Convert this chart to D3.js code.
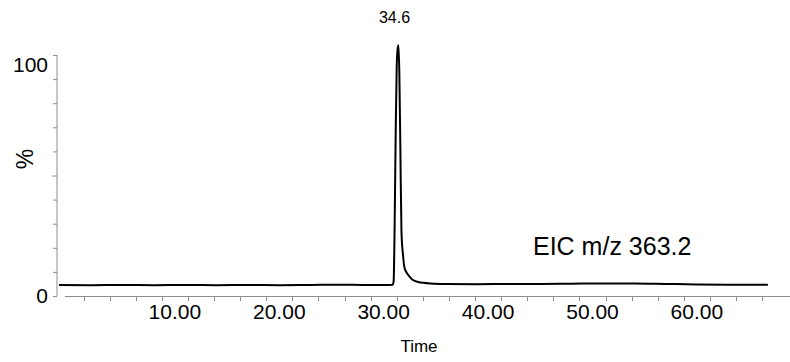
<!DOCTYPE html>
<html>
<head>
<meta charset="utf-8">
<script src="https://cdn.jsdelivr.net/npm/d3@7"></script>
<style>
body { margin: 0; background: #fff; }
text { font-family: "Liberation Sans", Arial, sans-serif; fill: #000; }
</style>
</head>
<body>
<div id="chart"></div>
<script>
// chromatogram trace (time in min, intensity in %)
const times = [-1.1, 2, 5, 8, 11, 14, 17, 20, 23, 26, 28, 30, 30.85, 30.95, 31.05, 31.15, 31.25, 31.35, 31.42, 31.5, 31.6, 31.7, 31.85, 32.0, 32.3, 32.7, 33.3, 34.5, 36, 39, 42, 45, 48, 51, 54, 57, 60, 63, 66.8];
const intensity = [4.6, 4.5, 4.6, 4.5, 4.6, 4.5, 4.6, 4.5, 4.6, 4.7, 4.6, 4.6, 4.7, 6, 30, 68, 96, 103, 104, 92, 60, 27, 17, 11.6, 9, 7, 5.8, 5.2, 5.0, 4.9, 5.0, 5.0, 5.1, 5.2, 5.2, 5.0, 4.8, 4.7, 4.7];

const xTickLabels = [10, 20, 30, 40, 50, 60];
const xMinorTicks = d3.range(1.25, 67, 2.5);
const yTicks = d3.range(0, 101, 10);
const peakLabel = "34.6";
const traceLabel = "EIC m/z 363.2";

const width = 790, height = 362;
const svg = d3.select("#chart").append("svg").attr("width", width).attr("height", height);

const x = d3.scaleLinear().domain([0, 60]).range([70.5, 696.9]);
const y = d3.scaleLinear().domain([0, 100]).range([296, 55]);

const axisColor = "#8c8c8c";

// y axis
svg.append("line").attr("x1", 57).attr("x2", 57).attr("y1", y(100)).attr("y2", y(0))
    .attr("stroke", axisColor).attr("stroke-width", 1);
svg.selectAll(".ytick").data(yTicks).enter().append("line")
    .attr("x1", d => d === 50 ? 52 : 53).attr("x2", 57)
    .attr("y1", d => y(d) + 0.5).attr("y2", d => y(d) + 0.5)
    .attr("stroke", axisColor).attr("stroke-width", 1);
svg.append("text").attr("x", 48).attr("y", 72).attr("text-anchor", "end").style("font-size", "21px").text("100");
svg.append("text").attr("x", 48).attr("y", 303).attr("text-anchor", "end").style("font-size", "21px").text("0");
svg.append("text").attr("transform", "translate(33,159) rotate(-90)").attr("text-anchor", "middle")
    .style("font-size", "23px").text("%");

// x axis
svg.append("line").attr("x1", 65).attr("x2", 790).attr("y1", 296.5).attr("y2", 296.5)
    .attr("stroke", axisColor).attr("stroke-width", 1);
svg.selectAll(".xtick").data(xMinorTicks).enter().append("line")
    .attr("x1", d => Math.round(x(d)) + 0.5).attr("x2", d => Math.round(x(d)) + 0.5)
    .attr("y1", 297).attr("y2", 301)
    .attr("stroke", axisColor).attr("stroke-width", 1);
svg.selectAll(".xlabel").data(xTickLabels).enter().append("text")
    .attr("x", d => x(d)).attr("y", 319).attr("text-anchor", "middle")
    .style("font-size", "21px").text(d => d.toFixed(2));
svg.append("text").attr("x", 419).attr("y", 352).attr("text-anchor", "middle")
    .style("font-size", "17px").text("Time");

// trace
const pts = times.map((t, i) => [t, intensity[i]]);
const line = d3.line().x(d => x(d[0])).y(d => y(d[1])).curve(d3.curveMonotoneX);
svg.append("path").datum(pts).attr("d", line)
    .attr("fill", "none").attr("stroke", "#000").attr("stroke-width", 2).attr("stroke-linejoin", "round");

// labels
svg.append("text").attr("x", x(31.42) - 4).attr("y", 23).attr("text-anchor", "middle")
    .style("font-size", "16px").text(peakLabel);
svg.append("text").attr("x", 533).attr("y", 255).style("font-size", "25px").text(traceLabel);
</script>
</body>
</html>
